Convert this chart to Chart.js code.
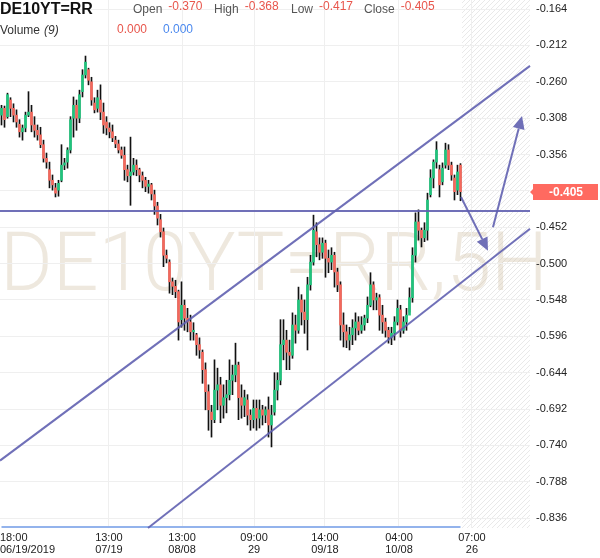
<!DOCTYPE html>
<html>
<head>
<meta charset="utf-8">
<script src="https://cdn.jsdelivr.net/npm/chart.js@4.4.0/dist/chart.umd.min.js"></script>
<style>
html, body { margin: 0; padding: 0; background: #fff; }
#wrap { width: 600px; height: 558px; position: relative; }
</style>
</head>
<body>
<div id="wrap"><canvas id="chart"></canvas></div>
<script>
// 5H candles, DE10YT=RR
const opens = [
  -0.304,-0.295,-0.306,-0.284,-0.295,-0.304,-0.316,-0.326,-0.321,-0.304,
  -0.300,-0.317,-0.324,-0.330,-0.343,-0.361,-0.376,-0.390,-0.400,-0.403,
  -0.390,-0.370,-0.366,-0.350,-0.308,-0.291,-0.308,-0.273,-0.251,-0.244,
  -0.260,-0.288,-0.295,-0.284,-0.300,-0.313,-0.321,-0.326,-0.337,-0.342,
  -0.350,-0.357,-0.376,-0.384,-0.379,-0.370,-0.376,-0.384,-0.390,-0.398,
  -0.396,-0.409,-0.424,-0.442,-0.458,-0.489,-0.498,-0.524,-0.530,-0.537,
  -0.574,-0.555,-0.572,-0.577,-0.590,-0.594,-0.607,-0.617,-0.640,-0.669,
  -0.696,-0.706,-0.667,-0.660,-0.687,-0.677,-0.673,-0.654,-0.647,-0.634,
  -0.677,-0.687,-0.680,-0.700,-0.706,-0.691,-0.704,-0.693,-0.700,-0.693,
  -0.713,-0.696,-0.667,-0.654,-0.607,-0.601,-0.617,-0.621,-0.581,-0.588,
  -0.548,-0.564,-0.574,-0.528,-0.498,-0.458,-0.475,-0.485,-0.473,-0.493,
  -0.498,-0.489,-0.511,-0.528,-0.581,-0.590,-0.601,-0.594,-0.585,-0.577,
  -0.588,-0.581,-0.572,-0.555,-0.528,-0.548,-0.545,-0.568,-0.577,-0.588,
  -0.597,-0.592,-0.577,-0.561,-0.588,-0.577,-0.568,-0.545,-0.489,-0.445,
  -0.456,-0.466,-0.456,-0.409,-0.387,-0.366,-0.376,-0.392,-0.370,-0.350,
  -0.370,-0.387,-0.403,-0.370
];
const highs = [
  -0.291,-0.292,-0.275,-0.281,-0.289,-0.297,-0.310,-0.317,-0.300,-0.273,
  -0.291,-0.306,-0.317,-0.320,-0.337,-0.354,-0.366,-0.383,-0.394,-0.390,
  -0.343,-0.361,-0.347,-0.306,-0.280,-0.284,-0.271,-0.244,-0.226,-0.242,
  -0.254,-0.281,-0.271,-0.264,-0.288,-0.306,-0.314,-0.317,-0.332,-0.337,
  -0.346,-0.346,-0.370,-0.333,-0.361,-0.363,-0.374,-0.379,-0.386,-0.390,
  -0.394,-0.403,-0.419,-0.435,-0.453,-0.482,-0.495,-0.519,-0.522,-0.535,
  -0.524,-0.548,-0.559,-0.568,-0.578,-0.592,-0.598,-0.614,-0.631,-0.660,
  -0.687,-0.627,-0.638,-0.650,-0.660,-0.654,-0.627,-0.634,-0.605,-0.630,
  -0.660,-0.667,-0.673,-0.693,-0.680,-0.680,-0.680,-0.687,-0.689,-0.676,
  -0.687,-0.644,-0.644,-0.574,-0.574,-0.588,-0.601,-0.565,-0.568,-0.531,
  -0.541,-0.548,-0.518,-0.489,-0.436,-0.446,-0.466,-0.466,-0.469,-0.482,
  -0.479,-0.485,-0.506,-0.524,-0.565,-0.581,-0.584,-0.574,-0.565,-0.570,
  -0.570,-0.568,-0.544,-0.512,-0.524,-0.539,-0.541,-0.555,-0.572,-0.584,
  -0.584,-0.570,-0.548,-0.555,-0.570,-0.559,-0.532,-0.479,-0.433,-0.429,
  -0.453,-0.446,-0.407,-0.376,-0.363,-0.339,-0.370,-0.367,-0.341,-0.343,
  -0.366,-0.383,-0.370,-0.368
];
const lows = [
  -0.317,-0.320,-0.308,-0.306,-0.313,-0.320,-0.333,-0.337,-0.326,-0.306,
  -0.326,-0.333,-0.337,-0.347,-0.366,-0.374,-0.400,-0.403,-0.412,-0.411,
  -0.392,-0.376,-0.374,-0.354,-0.333,-0.324,-0.314,-0.280,-0.255,-0.264,
  -0.291,-0.301,-0.300,-0.310,-0.328,-0.330,-0.334,-0.339,-0.347,-0.354,
  -0.361,-0.390,-0.392,-0.423,-0.383,-0.384,-0.392,-0.400,-0.405,-0.407,
  -0.416,-0.435,-0.449,-0.465,-0.504,-0.499,-0.539,-0.541,-0.545,-0.601,
  -0.584,-0.588,-0.590,-0.601,-0.601,-0.621,-0.625,-0.658,-0.693,-0.720,
  -0.729,-0.710,-0.693,-0.710,-0.704,-0.697,-0.680,-0.673,-0.656,-0.706,
  -0.704,-0.702,-0.713,-0.720,-0.717,-0.720,-0.717,-0.713,-0.710,-0.729,
  -0.742,-0.700,-0.680,-0.660,-0.627,-0.640,-0.640,-0.625,-0.605,-0.592,
  -0.581,-0.592,-0.614,-0.535,-0.502,-0.491,-0.495,-0.493,-0.518,-0.512,
  -0.508,-0.531,-0.537,-0.601,-0.610,-0.611,-0.614,-0.607,-0.601,-0.594,
  -0.592,-0.588,-0.578,-0.557,-0.561,-0.561,-0.588,-0.592,-0.597,-0.605,
  -0.607,-0.601,-0.581,-0.597,-0.592,-0.588,-0.564,-0.551,-0.498,-0.469,
  -0.478,-0.471,-0.469,-0.412,-0.400,-0.374,-0.412,-0.396,-0.374,-0.376,
  -0.390,-0.416,-0.409,-0.417
];
const closes = [
  -0.295,-0.310,-0.277,-0.295,-0.304,-0.313,-0.326,-0.321,-0.304,-0.300,
  -0.317,-0.324,-0.330,-0.343,-0.361,-0.366,-0.390,-0.396,-0.407,-0.394,
  -0.370,-0.367,-0.350,-0.310,-0.291,-0.308,-0.277,-0.251,-0.234,-0.258,
  -0.284,-0.297,-0.281,-0.300,-0.317,-0.321,-0.326,-0.334,-0.342,-0.350,
  -0.357,-0.376,-0.384,-0.379,-0.370,-0.376,-0.383,-0.390,-0.398,-0.395,
  -0.408,-0.424,-0.440,-0.458,-0.489,-0.493,-0.524,-0.530,-0.537,-0.577,
  -0.555,-0.572,-0.577,-0.590,-0.588,-0.607,-0.614,-0.640,-0.669,-0.693,
  -0.706,-0.667,-0.660,-0.687,-0.677,-0.673,-0.654,-0.647,-0.634,-0.677,
  -0.687,-0.677,-0.700,-0.706,-0.691,-0.704,-0.693,-0.700,-0.693,-0.713,
  -0.700,-0.667,-0.654,-0.607,-0.601,-0.617,-0.621,-0.581,-0.588,-0.548,
  -0.564,-0.574,-0.528,-0.498,-0.456,-0.475,-0.485,-0.473,-0.493,-0.498,
  -0.489,-0.511,-0.528,-0.581,-0.590,-0.601,-0.594,-0.585,-0.577,-0.588,
  -0.581,-0.572,-0.555,-0.528,-0.548,-0.545,-0.568,-0.577,-0.588,-0.597,
  -0.592,-0.577,-0.559,-0.588,-0.577,-0.568,-0.545,-0.489,-0.445,-0.456,
  -0.466,-0.456,-0.416,-0.387,-0.366,-0.350,-0.396,-0.374,-0.350,-0.370,
  -0.383,-0.405,-0.379,-0.405
];

// volume study (9) shown as a flat line at 0
const volX = [0, 153];
const volMA = [0.000, 0.000];

const yTicks = [-0.164,-0.212,-0.260,-0.308,-0.356,-0.404,-0.452,-0.500,-0.548,-0.596,-0.644,-0.692,-0.740,-0.788,-0.836];
// tick positions in candle index units (first one is drawn flush left)
const xTickPos = [-0.5, 35.8, 60.2, 84.2, 107.8, 132.5, 156.8];
const xTickLabels = [
  ['18:00', '06/19/2019'], ['13:00', '07/19'], ['13:00', '08/08'], ['09:00', '29'],
  ['14:00', '09/18'], ['04:00', '10/08'], ['07:00', '26']
];

// drawings: [index, price]
const channelTop = [[-0.5, -0.760], [176.17, -0.239]];
const channelBottom = [[48.83, -0.849], [176.17, -0.454]];
const levelLine = [[-0.5, -0.4305], [176.17, -0.4305]];
const arrowDown = [[153.17, -0.412], [162.17, -0.483]];
const arrowUp = [[163.83, -0.452], [173.5, -0.305]];
const futureStart = 153.5;

const lastPrice = -0.405;
const header = { open: -0.370, high: -0.368, low: -0.417, close: -0.405 };

const UP = '#1fc47c';
const DOWN = '#f4685c';
const DRAW = 'rgba(96, 96, 176, 0.9)';
const FONT = 'Arial, "Liberation Sans", sans-serif';

const idx = opens.map((_, i) => i);

const decor = {
  id: 'decor',
  beforeDraw(chart) {
    const { ctx, chartArea: a, scales } = chart;
    // hatched future zone
    const x0 = scales.x.getPixelForValue(futureStart);
    ctx.save();
    ctx.beginPath();
    ctx.rect(x0, a.top, a.right - x0, a.bottom - a.top);
    ctx.clip();
    ctx.strokeStyle = '#e9e9e9';
    ctx.lineWidth = 1;
    ctx.beginPath();
    for (let k = -700; k < 700; k += 5) {
      ctx.moveTo(x0 + k, a.bottom);
      ctx.lineTo(x0 + k + 700, a.bottom - 700);
    }
    ctx.stroke();
    ctx.restore();

    // watermark (runs a little past the plot into the price axis)
    ctx.save();
    ctx.font = '300 82px Roboto, ' + FONT;
    ctx.fillStyle = 'rgba(205, 190, 160, 0.35)';
    ctx.textBaseline = 'alphabetic';
    const txt = 'DE10YT=RR,5H';
    const w = ctx.measureText(txt).width;
    ctx.translate(a.left, 290);
    ctx.scale(548 / w, 1);
    ctx.fillText(txt, 0, 0);
    ctx.restore();
  },
  afterDatasetsDraw(chart) {
    const { ctx, scales } = chart;
    const sx = scales.x, sy = scales.y;
    const pt = p => [sx.getPixelForValue(p[0]), sy.getPixelForValue(p[1])];
    ctx.save();
    ctx.strokeStyle = DRAW;
    ctx.fillStyle = DRAW;
    ctx.lineWidth = 2;
    [channelTop, channelBottom, levelLine].forEach(l => {
      const [p, q] = [pt(l[0]), pt(l[1])];
      ctx.beginPath();
      ctx.moveTo(p[0], p[1]);
      ctx.lineTo(q[0], q[1]);
      ctx.stroke();
    });
    [arrowDown, arrowUp].forEach(l => {
      const [p, q] = [pt(l[0]), pt(l[1])];
      const ang = Math.atan2(q[1] - p[1], q[0] - p[0]);
      const len = 13, hw = 6;
      const bx = q[0] - len * Math.cos(ang), by = q[1] - len * Math.sin(ang);
      ctx.beginPath();
      ctx.moveTo(p[0], p[1]);
      ctx.lineTo(bx, by);
      ctx.stroke();
      ctx.beginPath();
      ctx.moveTo(q[0], q[1]);
      ctx.lineTo(bx + hw * Math.sin(ang), by - hw * Math.cos(ang));
      ctx.lineTo(bx - hw * Math.sin(ang), by + hw * Math.cos(ang));
      ctx.closePath();
      ctx.fill();
    });
    ctx.restore();
  },
  afterDraw(chart) {
    const { ctx, chartArea: a, scales } = chart;
    ctx.save();
    // first time label, flush left
    ctx.font = '11px ' + FONT;
    ctx.fillStyle = '#222';
    ctx.textAlign = 'left';
    ctx.textBaseline = 'top';
    ctx.fillText(xTickLabels[0][0], 0, a.bottom + 4);
    ctx.fillText(xTickLabels[0][1], 0, a.bottom + 4 + 12.1);

    // last price tag
    const py = Math.round(scales.y.getPixelForValue(lastPrice));
    ctx.fillStyle = '#ff6a60';
    ctx.beginPath();
    ctx.moveTo(530, py);
    ctx.lineTo(533, py - 3);
    ctx.lineTo(533, py - 8);
    ctx.lineTo(598, py - 8);
    ctx.lineTo(598, py + 8);
    ctx.lineTo(533, py + 8);
    ctx.lineTo(533, py + 3);
    ctx.closePath();
    ctx.fill();
    ctx.fillStyle = '#fff';
    ctx.font = 'bold 12px ' + FONT;
    ctx.textAlign = 'center';
    ctx.textBaseline = 'middle';
    ctx.fillText(lastPrice.toFixed(3), 566, py + 1);

    // header
    ctx.textAlign = 'left';
    ctx.textBaseline = 'alphabetic';
    ctx.font = 'bold 16px ' + FONT;
    ctx.fillStyle = '#111';
    ctx.fillText('DE10YT=RR', 0, 14);
    const items = [['Open', header.open, 133], ['High', header.high, 214], ['Low', header.low, 291], ['Close', header.close, 364]];
    items.forEach(([lab, val, x]) => {
      ctx.font = '12px ' + FONT;
      ctx.fillStyle = '#555';
      ctx.fillText(lab, x, 13);
      const w = ctx.measureText(lab).width;
      ctx.fillStyle = '#e8564c';
      ctx.fillText(val.toFixed(3), x + w + 6, 10);
    });
    ctx.font = '12px ' + FONT;
    ctx.fillStyle = '#333';
    ctx.fillText('Volume', 0, 34);
    ctx.font = 'italic 12px ' + FONT;
    ctx.fillText('(9)', 44, 34);
    ctx.font = '12px ' + FONT;
    ctx.fillStyle = '#e8564c';
    ctx.fillText(volMA[0].toFixed(3), 117, 33);
    ctx.fillStyle = '#4a88ee';
    ctx.fillText(volMA[1].toFixed(3), 163, 33);
    ctx.restore();
  }
};

new Chart(document.getElementById('chart'), {
  type: 'bar',
  data: {
    datasets: [
      {
        label: 'body',
        data: idx.map(i => ({ x: i, y: [opens[i], closes[i]] })),
        backgroundColor: c => closes[c.dataIndex] >= opens[c.dataIndex] ? UP : DOWN,
        barThickness: 2,
        minBarLength: 1,
        grouped: false,
        order: 0
      },
      {
        label: 'wick',
        data: idx.map(i => ({ x: i, y: [lows[i], highs[i]] })),
        backgroundColor: '#111',
        barThickness: 1,
        grouped: false,
        order: 1
      },
      {
        type: 'line',
        label: 'Volume (9)',
        data: volX.map((x, k) => ({ x: x, y: volMA[k] })),
        yAxisID: 'yv',
        borderColor: '#93b3ec',
        borderWidth: 2,
        pointRadius: 0,
        order: -1
      }
    ]
  },
  options: {
    responsive: true,
    maintainAspectRatio: false,
    animation: false,
    layout: { padding: 0, autoPadding: false },
    plugins: { legend: { display: false }, tooltip: { enabled: false } },
    scales: {
      x: {
        type: 'linear',
        min: -0.5,
        max: 176.17,
        offset: false,
        border: { display: false },
        grid: { color: '#efefef', drawTicks: false, offset: false },
        afterBuildTicks: s => { s.ticks = xTickPos.slice(1).map(v => ({ value: v })); },
        afterFit: s => { s.height = 30; s.paddingLeft = 0; s.paddingRight = 0; },
        ticks: {
          autoSkip: false,
          maxRotation: 0,
          padding: 4,
          color: '#222',
          font: { family: FONT, size: 11, lineHeight: 1.1 },
          callback: (v, i) => xTickLabels[i + 1]
        }
      },
      y: {
        position: 'right',
        min: -0.849,
        max: -0.152,
        border: { display: false },
        grid: { color: '#efefef', drawTicks: false },
        afterBuildTicks: s => { s.ticks = yTicks.map(v => ({ value: v })); },
        afterFit: s => { s.width = 70; s.paddingTop = 0; s.paddingBottom = 0; },
        ticks: {
          padding: 6,
          color: '#222',
          font: { family: FONT, size: 11 },
          callback: v => Number(v).toFixed(3)
        }
      },
      yv: { display: false, min: -0.002, max: 1 }
    }
  },
  plugins: [decor]
});
</script>
</body>
</html>
